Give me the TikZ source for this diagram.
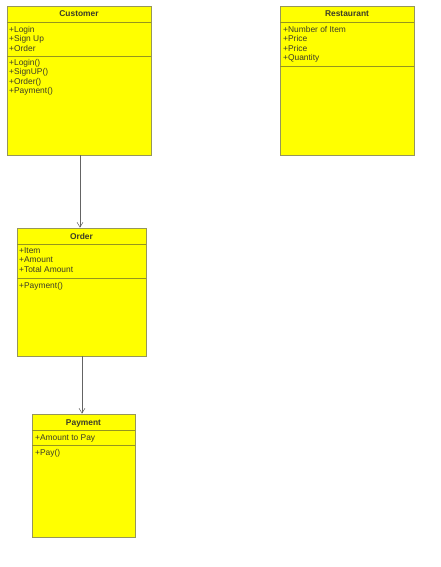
\documentclass[tikz,border=0pt]{standalone}
\usepackage{fontspec}
\setmainfont{Liberation Sans}
\usetikzlibrary{arrows.meta}

\definecolor{umlyellow}{RGB}{255,255,0}
\definecolor{umlborder}{RGB}{150,150,90}
\definecolor{umlsep}{RGB}{150,150,30}
\definecolor{umltext}{RGB}{60,60,40}
\definecolor{umlline}{RGB}{100,100,100}

\begin{document}
\begin{tikzpicture}[x=1pt,y=-1pt,
	classbox/.style={draw=umlborder,fill=umlyellow,line width=0.6pt,inner sep=0pt},
	classname/.style={font=\fontsize{8.4}{9.5}\selectfont\bfseries,text=umltext,inner sep=0pt,anchor=base},
	members/.style={font=\fontsize{8.4}{9.5}\selectfont,text=umltext,align=left,anchor=north west,inner sep=0pt},
	sep/.style={draw=umlsep,line width=0.7pt},
	link/.style={draw=umlline,line width=0.5pt,-{Straight Barb[length=5pt,width=6pt]}}]

	\useasboundingbox (0,0) rectangle (440,567);

	% Customer
	\node[classbox,minimum width=144pt,minimum height=149pt] (customer) at (79,80.5) {};
	\node[classname] (customername) at (79,17) {Customer};
	\draw[sep] (7,22.7) -- (151,22.7);
	\node[members] (customerattr) at (9,25.3) {\strut+Login\\+Sign Up\\+Order};
	\draw[sep] (7,56.7) -- (151,56.7);
	\node[members] (customerops) at (9,58.3) {\strut+Login()\\+SignUP()\\+Order()\\+Payment()};

	% Restaurant
	\node[classbox,minimum width=134pt,minimum height=149pt] (restaurant) at (347,80.5) {};
	\node[classname] (restaurantname) at (347,17) {Restaurant};
	\draw[sep] (280,22.7) -- (414,22.7);
	\node[members] (restaurantattr) at (283,25.3) {\strut+Number of Item\\+Price\\+Price\\+Quantity};
	\draw[sep] (280,66) -- (414,66);

	% Order
	\node[classbox,minimum width=129pt,minimum height=128pt] (order) at (81.5,292) {};
	\node[classname] (ordername) at (81.5,239) {Order};
	\draw[sep] (17,244) -- (146,244);
	\node[members] (orderattr) at (19,246.3) {\strut+Item\\+Amount\\+Total Amount};
	\draw[sep] (17,278) -- (146,278);
	\node[members] (orderops) at (19,281.3) {\strut+Payment()};

	% Payment
	\node[classbox,minimum width=103pt,minimum height=123pt] (payment) at (83.5,475.5) {};
	\node[classname] (paymentname) at (83.5,425) {Payment};
	\draw[sep] (32,430) -- (135,430);
	\node[members] (paymentattr) at (35,433.3) {\strut+Amount to Pay};
	\draw[sep] (32,445) -- (135,445);
	\node[members] (paymentops) at (35,448.3) {\strut+Pay()};

	% associations
	\draw[link] ([xshift=1pt]customer.south) -- ([xshift=1pt]customer.south |- order.north);
	\draw[link] ([xshift=0.5pt]order.south) -- ([xshift=0.5pt]order.south |- payment.north);

\end{tikzpicture}
\end{document}
